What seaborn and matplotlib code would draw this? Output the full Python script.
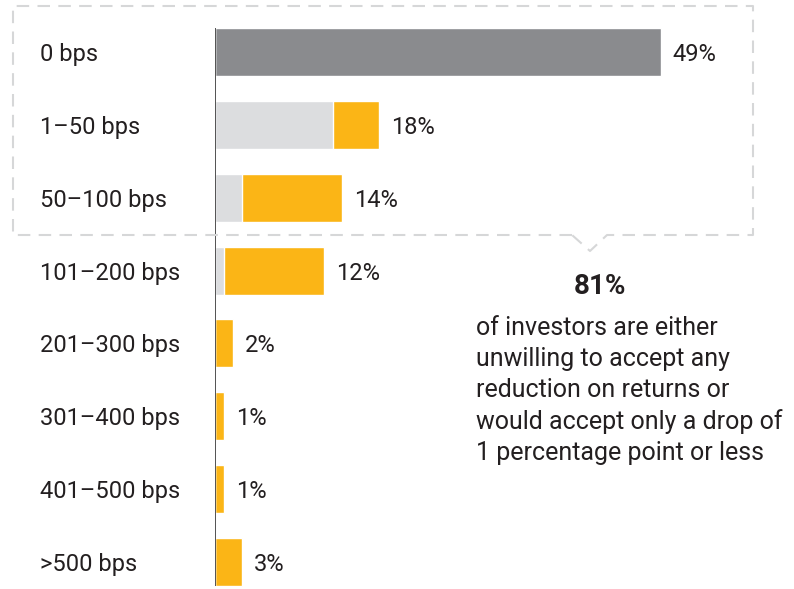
import matplotlib
matplotlib.use("Agg")
import matplotlib.pyplot as plt
from matplotlib.lines import Line2D
import seaborn as sns
import pandas as pd

categories = ["0 bps", "1–50 bps", "50–100 bps", "101–200 bps", "201–300 bps",
              "301–400 bps", "401–500 bps", ">500 bps"]
totals = [49, 18, 14, 12, 2, 1, 1, 3]
gray_part = [0, 13, 3, 1, 0, 0, 0, 0]
headline = "81%"
note = ("of investors are either\nunwilling to accept any\nreduction on returns or\n"
        "would accept only a drop of\n1 percentage point or less")

DARK = "#8a8b8e"
LIGHT = "#dcdddf"
YEL = "#fbb516"
TXT = "#231f20"

sns.set_theme(style="white")
plt.rcParams["font.family"] = ["Roboto", "DejaVu Sans"]

W, H = 794, 589
fig = plt.figure(figsize=(W / 100, H / 100), dpi=100)

def fx(px):
    return px / W

def fy(py):
    return (H - py) / H

ax = fig.add_axes([fx(215), 0, fx(788) - fx(215), fy(6)])

df = pd.DataFrame({"cat": categories, "total": totals, "gray": gray_part})
palette = [DARK] + [YEL] * (len(categories) - 1)
sns.barplot(data=df, x="total", y="cat", hue="cat", palette=palette,
            legend=False, width=0.66, ax=ax, saturation=1)
df_over = df.copy()
df_over.loc[0, "gray"] = 0
sns.barplot(data=df_over, x="gray", y="cat", color=LIGHT, width=0.66, ax=ax,
            saturation=1)

ax.set_xlim(0, 63)
ax.set_ylim(7.370, -0.631)
for s in ax.spines.values():
    s.set_visible(False)
ax.set_xticks([])
ax.set_xlabel("")
ax.set_ylabel("")
ax.vlines(0, -0.33, 7.33, color="#444444", lw=1.3, zorder=5)

ax.tick_params(axis="y", length=0, pad=126, labelsize=17, labelcolor=TXT)
for lab in ax.get_yticklabels():
    lab.set_ha("left")

for i, v in enumerate(totals):
    ax.annotate(f"{v}%", xy=(v, i), xytext=(12, 0), textcoords="offset pixels",
                va="center_baseline", ha="left", fontsize=17, color=TXT)

# dashed callout box
xs = [fx(572), fx(13), fx(13), fx(753), fx(753), fx(607), fx(590), fx(572)]
ys = [fy(235), fy(235), fy(6), fy(6), fy(235), fy(235), fy(251), fy(235)]
fig.add_artist(Line2D(xs, ys, transform=fig.transFigure, color="#d6d7d8",
                      lw=1.5, linestyle=(0, (6, 4))))

fig.text(fx(600), fy(287), headline, ha="center", va="center", fontsize=20,
         fontweight="bold", color=TXT)
fig.text(fx(476), fy(316), note, ha="left", va="top", fontsize=18, color=TXT,
         linespacing=1.36)

fig.savefig("out.png", dpi=100)
